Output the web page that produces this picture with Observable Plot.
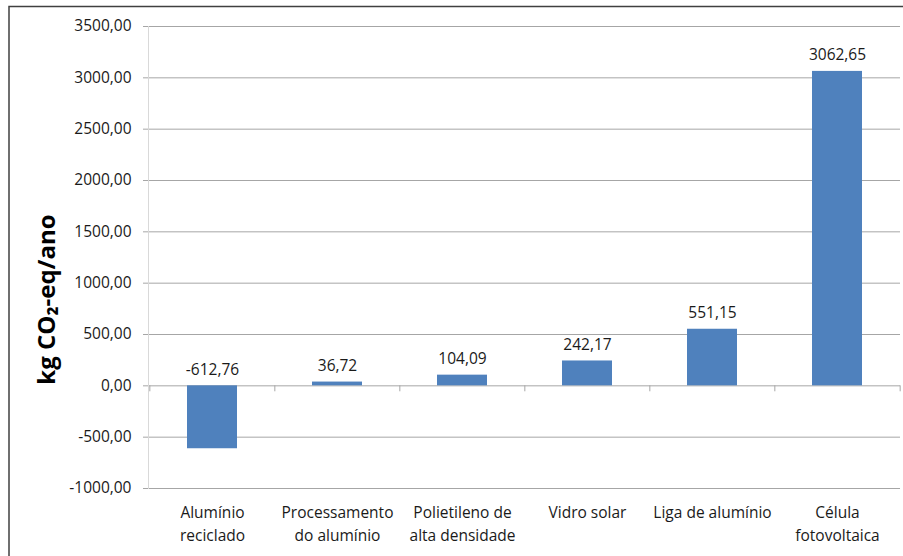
<!DOCTYPE html>
<html>
<head>
<meta charset="utf-8">
<script src="https://cdn.jsdelivr.net/npm/d3@7"></script>
<script src="https://cdn.jsdelivr.net/npm/@observablehq/plot@0.6"></script>
<style>
  html, body { margin: 0; padding: 0; background: #fff; }
  #chart svg { display: block; }
</style>
</head>
<body>
<div id="chart"></div>
<script>
const categories = [
  "Alumínio\nreciclado",
  "Processamento\ndo alumínio",
  "Polietileno de\nalta densidade",
  "Vidro solar",
  "Liga de alumínio",
  "Célula\nfotovoltaica"
];
const values = [-612.76, 36.72, 104.09, 242.17, 551.15, 3062.65];
const yTicks = [-1000, -500, 0, 500, 1000, 1500, 2000, 2500, 3000, 3500];
const yLabel = "kg CO₂-eq/ano";

const data = categories.map((c, i) => ({category: c, value: values[i]}));
const fmt = d => d.toFixed(2).replace(".", ",");
const font = "'Open Sans', 'Noto Sans', sans-serif";

const W = 903, H = 556, mL = 148, mR = 3, mT = 26, mB = 68;
const step = (W - mL - mR) / categories.length;

const chart = Plot.plot({
  width: W,
  height: H,
  marginLeft: mL,
  marginRight: mR,
  marginTop: mT,
  marginBottom: mB,
  style: {fontFamily: font, fontSize: "15.5px", color: "#1a1a1a", background: "#fff"},
  x: {domain: categories, paddingInner: 0.6, paddingOuter: 0.3, label: null},
  y: {domain: [-1000, 3500], ticks: yTicks, label: null},
  marks: [
    Plot.ruleY(yTicks, {stroke: "#a6a6a6", strokeWidth: 1, strokeOpacity: 1}),
    Plot.ruleX(categories, {x: d => d, dx: -step / 2, y1: 0, y2: -58, stroke: "#a6a6a6"}),
    Plot.ruleX([categories[categories.length - 1]], {x: d => d, dx: step / 2, y1: 0, y2: -58, stroke: "#a6a6a6"}),
    Plot.barY(data, {x: "category", y: "value", fill: "#4f81bd"}),
    Plot.text(data, {
      x: "category",
      y: d => Math.max(d.value, 0),
      text: d => fmt(d.value),
      dy: -16,
      fontSize: 15.5,
      fill: "#1a1a1a"
    }),
    Plot.axisY({ticks: yTicks, tickFormat: fmt, tickSize: 5, tickPadding: 12, stroke: "#a6a6a6", fontSize: 15.5, label: null}),
    Plot.frame({anchor: "left", stroke: "#d9d9d9"}),
    Plot.axisX({tickSize: 0, tickPadding: 14, lineHeight: 1.45, fontSize: 15.5, label: null}),
    Plot.text([yLabel], {
      frameAnchor: "left",
      textAnchor: "middle",
      dx: -101,
      dy: 42,
      rotate: -90,
      fontSize: 24,
      fontWeight: "bold",
      fill: "#000",
      text: d => d
    })
  ]
});

d3.select(chart).append("path")
  .attr("d", "M9,556V6.5H903")
  .attr("fill", "none")
  .attr("stroke", "#404040")
  .attr("stroke-width", 1.5);

document.getElementById("chart").appendChild(chart);
</script>
</body>
</html>
